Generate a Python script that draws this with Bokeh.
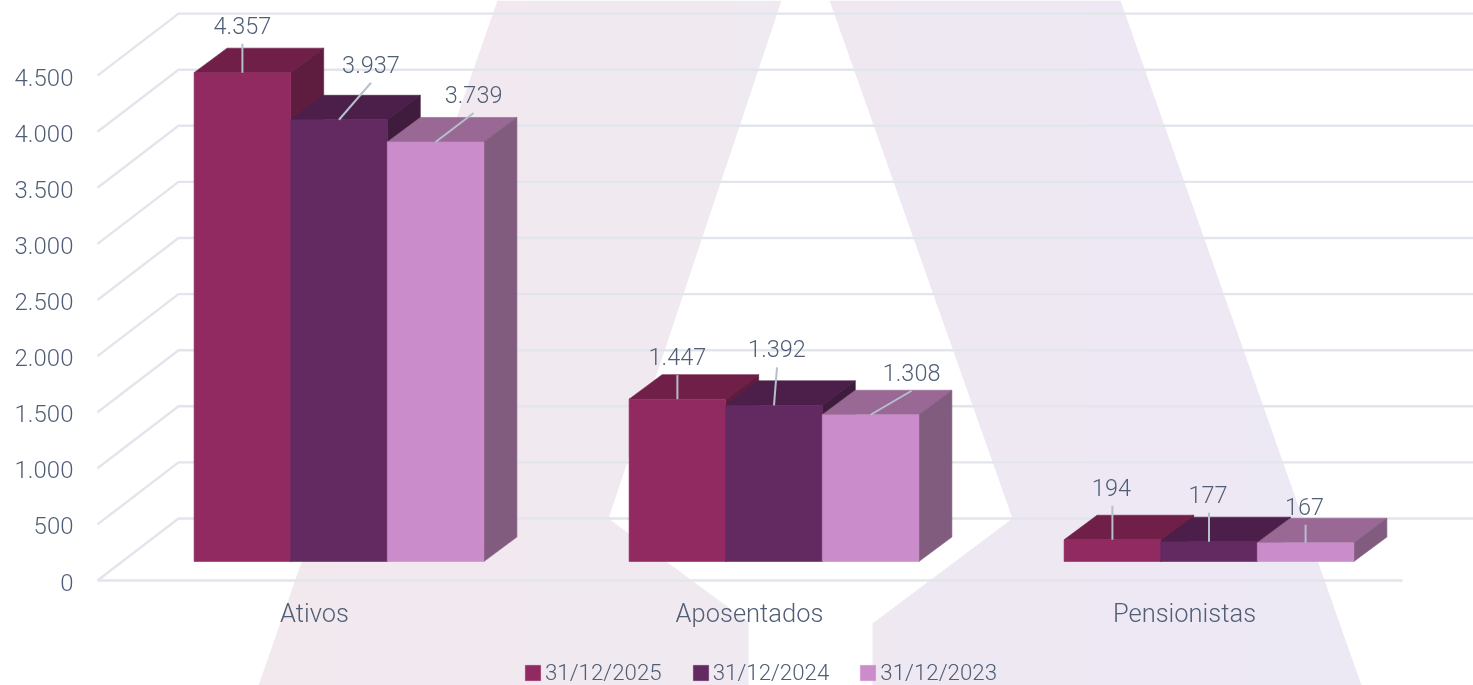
from bokeh.plotting import figure
from bokeh.models import Range1d, LinearAxis, FixedTicker, Legend, LegendItem, ColumnDataSource
from bokeh.core.properties import value
from bokeh.embed import file_html
from bokeh.resources import INLINE

categories = ["Ativos", "Aposentados", "Pensionistas"]
series_names = ["31/12/2025", "31/12/2024", "31/12/2023"]
values_2025 = [4357, 1447, 194]
values_2024 = [3937, 1392, 177]
values_2023 = [3739, 1308, 167]
y_ticks = [0, 500, 1000, 1500, 2000, 2500, 3000, 3500, 4000, 4500]
y_tick_labels = ["0", "500", "1.000", "1.500", "2.000", "2.500", "3.000", "3.500", "4.000", "4.500"]

# styles
FRONT = ["#902a60", "#622a60", "#ca8cca"]
TOP = ["#6f1f48", "#4b1f49", "#996894"]
SIDE = ["#5e1d3e", "#3f1c3d", "#825c7f"]
INK = "#4f5d75"
GRID = "#e3e5ed"
FONT = "Roboto Light"

# layout: pixel scale of the projection
W, H = 1473, 685
PX_Y = 0.1122          # px per value
PX_X = 435.0           # px per category
X0, Y0 = 314, 580      # px of category 0 / value 0
def dx(px): return px / PX_X
def dy(px): return px / PX_Y
BAR_SHIFT = dx(24.5)
BAR_W = dx(96.6)
BAR_FLOOR = dy(19)
BAR_DX, BAR_DY = dx(33), dy(24.5)
WALL_DX, WALL_DY = dx(81), dy(62)
LEFT = dx(97 - X0)
FLOOR_RIGHT = dx(1401.5 - X0)
RIGHT = dx(W - X0)

y_start, y_end = -(H - Y0) / PX_Y, Y0 / PX_Y
p = figure(width=W, height=H, output_backend="svg", toolbar_location=None,
           x_range=Range1d(-X0 / PX_X, RIGHT), y_range=Range1d(y_start, y_end),
           min_border=0, outline_line_color=None, x_axis_type=None, y_axis_type=None,
           styles={"position": "fixed", "top": "0", "left": "0"})
p.grid.visible = False
# tick labels sit a little lower than the floor lines they name
p.extra_y_ranges = {"tick_labels": Range1d(y_start + dy(1.5), y_end + dy(1.5))}

# background logo with a soft horizontal colour gradient, cut in overlapping vertical strips
LOGO_LEFT = [(497, 0), (781, 0), (608, 518), (748, 622), (748, 685), (258, 685)]
LOGO_RIGHT = [(829, 0), (1120, 0), (1361, 685), (872, 685), (872, 623), (1012, 518)]
def clip(poly, lo, hi):
    for keep, edge in ((lambda x: x >= lo, lo), (lambda x: x <= hi, hi)):
        out = []
        for i, (x1, y1) in enumerate(poly):
            x0, y0 = poly[i - 1]
            if keep(x1) != keep(x0):
                out.append((edge, y0 + (y1 - y0) * (edge - x0) / (x1 - x0)))
            if keep(x1):
                out.append((x1, y1))
        poly = out
    return poly
def logo_colour(x):
    t = (x - 258) / (1361 - 258)
    a, b = (242, 233, 238), (236, 232, 244)
    return "#%02x%02x%02x" % tuple(round(u + (v - u) * t) for u, v in zip(a, b))
for poly in (LOGO_LEFT, LOGO_RIGHT):
    for lo in range(250, 1370, 40):
        part = clip(poly, lo, lo + 41)
        if len(part) > 2:
            p.patch([dx(a - X0) for a, _ in part], [dy(Y0 - b) for _, b in part],
                    fill_color=logo_colour(lo + 20), line_color=None)

# 3D grid
gx = [[LEFT, LEFT + WALL_DX, RIGHT] for _ in y_ticks]
gy = [[t, t + WALL_DY, t + WALL_DY] for t in y_ticks]
p.multi_line(gx, gy, line_color=GRID, line_width=2.4)

# bars
series = [values_2025, values_2024, values_2023]
fronts = []
for s, vals in enumerate(series):
    for c, v in enumerate(vals):
        l = c + BAR_SHIFT + (s - 1.5) * BAR_W
        r = l + BAR_W
        b = BAR_FLOOR
        t = BAR_FLOOR + v
        p.patch([l, r, r + BAR_DX, l + BAR_DX], [t, t, t + BAR_DY, t + BAR_DY],
                fill_color=TOP[s], line_color=TOP[s], line_width=0.6)
        p.patch([r, r + BAR_DX, r + BAR_DX, r], [b, b + BAR_DY, t + BAR_DY, t],
                fill_color=SIDE[s], line_color=SIDE[s], line_width=0.6)
    src = ColumnDataSource(dict(
        left=[c + BAR_SHIFT + (s - 1.5) * BAR_W for c in range(3)],
        right=[c + BAR_SHIFT + (s - 0.5) * BAR_W for c in range(3)],
        top=[BAR_FLOOR + v for v in vals],
        bottom=[BAR_FLOOR] * 3))
    fronts.append(p.quad(left="left", right="right", top="top", bottom="bottom", source=src,
                         fill_color=FRONT[s], line_color=FRONT[s], line_width=0.6))

# data labels with connectors (offsets in px from the top-centre of each front face)
label_dx = [[0, 0, 0], [32, 3, 0], [38, 41, 0]]
label_dy = [[29, 24, 34], [37, 38, 29], [29, 24, 18]]
text_gap = 18.5
text_nudge = [0, 0, -1]
lx, ly, lt, cx, cy = [], [], [], [], []
for s, vals in enumerate(series):
    for c, v in enumerate(vals):
        x = c + BAR_SHIFT + (s - 1) * BAR_W
        y = BAR_FLOOR + v
        ex, ey = x + dx(label_dx[s][c]), y + dy(label_dy[s][c])
        cx.append([x, ex]); cy.append([y, ey])
        lx.append(ex + dx(text_nudge[c])); ly.append(ey + dy(text_gap))
        lt.append(f"{v:,}".replace(",", "."))
p.multi_line(cx, cy, line_color="#b4c0cc", line_width=2)
p.text(lx, ly, text=lt, text_font=value(FONT), text_font_size="23.5px", text_color=INK,
       text_align="center", text_baseline="middle")

# axes
ax_y = LinearAxis(fixed_location=LEFT, ticker=FixedTicker(ticks=y_ticks), y_range_name="tick_labels",
                  major_label_overrides=dict(zip(y_ticks, y_tick_labels)))
ax_y.axis_line_color = None
ax_y.major_tick_line_color = None
ax_y.minor_tick_line_color = None
ax_y.major_label_standoff = 18
ax_y.major_label_text_font = FONT
ax_y.major_label_text_font_size = "24px"
ax_y.major_label_text_color = INK
p.add_layout(ax_y, "left")

ax_x = LinearAxis(fixed_location=0, ticker=FixedTicker(ticks=[0, 1, 2]),
                  major_label_overrides=dict(enumerate(categories)), bounds=(LEFT, FLOOR_RIGHT))
ax_x.axis_line_color = GRID
ax_x.axis_line_width = 2.4
ax_x.major_tick_line_color = None
ax_x.minor_tick_line_color = None
ax_x.major_label_standoff = 11
ax_x.major_label_text_font = FONT
ax_x.major_label_text_font_size = "25.5px"
ax_x.major_label_text_color = INK
p.add_layout(ax_x, "below")

legend = Legend(items=[LegendItem(label=n, renderers=[r]) for n, r in zip(series_names, fronts)],
                orientation="horizontal", location=(523, 0), background_fill_alpha=0,
                border_line_color=None, padding=0, margin=0, spacing=29, glyph_width=19, glyph_height=19,
                label_standoff=3, label_text_font=FONT, label_text_font_size="22.3px", label_text_color=INK,
                label_height=19)
p.add_layout(legend, "center")

open("out.html", "w").write(file_html(p, INLINE))
